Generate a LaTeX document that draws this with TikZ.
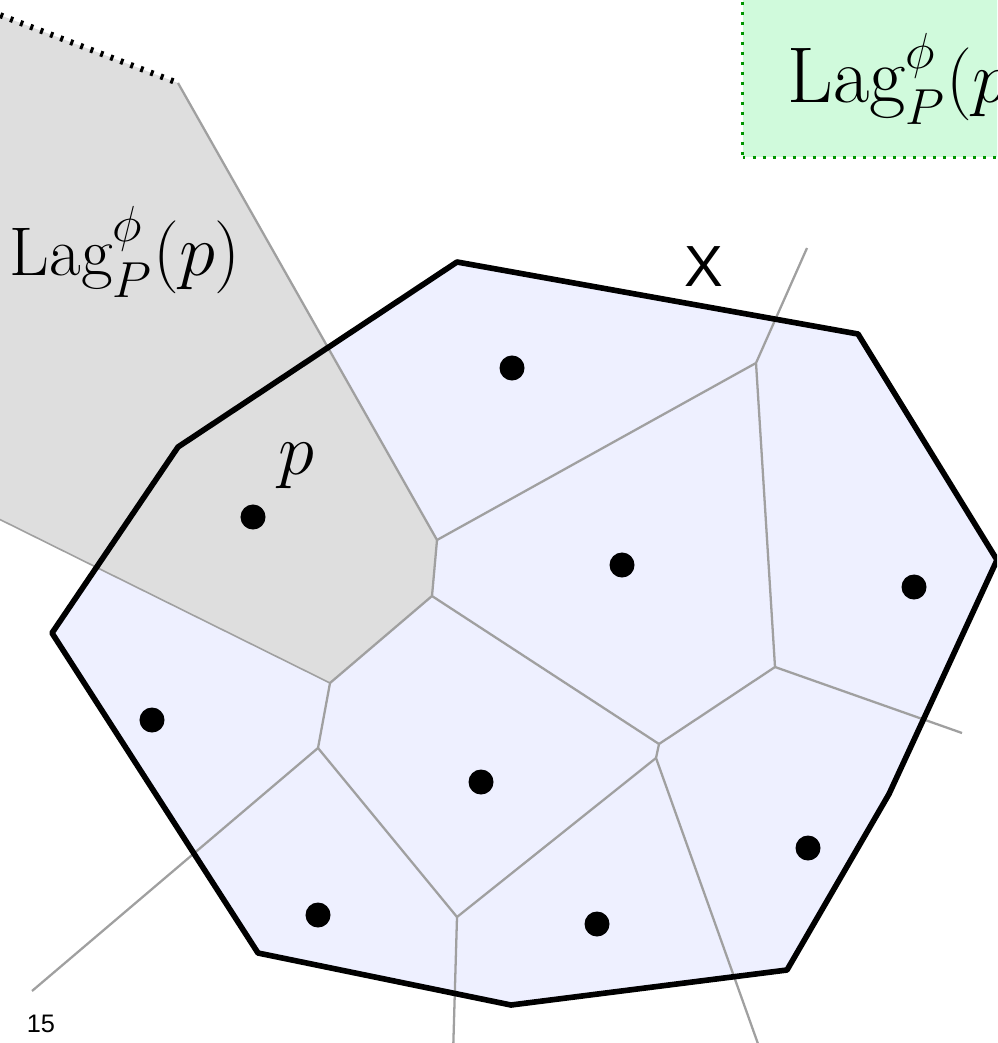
\documentclass[tikz,border=0pt]{standalone}
\usepackage{amsmath}
\usepackage{fontspec}
\newfontfamily\helvfont{Liberation Sans}
\usepackage{tikz}
\usetikzlibrary{calc}
\definecolor{cellblue}{RGB}{238,240,255}
\definecolor{cellgray}{RGB}{222,222,222}
\definecolor{edgegray}{RGB}{160,160,160}
\definecolor{boxgreen}{RGB}{0,150,0}
\definecolor{boxfill}{RGB}{208,250,220}

\begin{document}
\begin{tikzpicture}[x=0.01cm, y=-0.01cm,
    every node/.style={font=\fontsize{19.6}{23}\selectfont},
    xboundary/.style={line width=1.6pt, line join=round},
    celledge/.style={edgegray, line width=0.65pt},
    sitedot/.style={circle, fill=black, inner sep=0pt, minimum size=0.25cm},
    lagbox/.style={draw=boxgreen, fill=boxfill, dotted, line width=0.85pt}]
  \useasboundingbox (0,0) rectangle (997,1043);
  \clip (0,0) rectangle (997,1043);

  % domain X
  \foreach \n/\x/\y in {x1/457/262, x2/858/334, x3/997/560, x4/889/794,
                        x5/787/970, x6/511/1005, x7/258/953, x8/52/633, x9/178/447}
    \coordinate (\n) at (\x,\y);
  \fill[cellblue] (x1) -- (x2) -- (x3) -- (x4) -- (x5) -- (x6) -- (x7) -- (x8) -- (x9) -- cycle;

  % vertices of the Laguerre diagram and far ends of its open edges
  \foreach \n/\x/\y in {v1/437/540, v2/432/596, v3/330/683, v4/318/748, v5/457/917,
                        v6/656/758, v7/659/744, v8/775/667, v9/756/363}
    \coordinate (\n) at (\x,\y);
  \foreach \n/\x/\y in {f0/-100/-23, f1/178/83, f2/807/248, f3/962/733, f4/762/1055,
                        f5/453/1055, f6/32/991, f7/-100/470}
    \coordinate (\n) at (\x,\y);

  \fill[cellgray] (f0) -- (f1) -- (v1) -- (v2) -- (v3) -- (f7) -- cycle;
  \draw[line width=1.7pt, dash pattern=on 0.85pt off 2.2pt] (f0) -- (f1);
  \draw[celledge, line width=0.45pt] (v3) -- (f7);
  \foreach \a/\b in {f1/v1, v1/v9, v9/f2, v9/v8, v8/f3, v8/v7, v7/v2, v2/v1, v2/v3,
                     v3/v4, v4/f6, v4/v5, v5/v6, v6/v7, v6/f4, v5/f5}
    \draw[celledge] (\a) -- (\b);

  \draw[xboundary] (x1) -- (x2) -- (x3) -- (x4) -- (x5) -- (x6) -- (x7) -- (x8) -- (x9) -- cycle;

  \foreach \n/\x/\y in {s1/512/368, s2/253/517, s3/622/565, s4/914/587, s5/152/720,
                        s6/481/782, s7/808/848, s8/318/915, s9/597/924}
    \node[sitedot] (\n) at (\x,\y) {};

  \node (plabel) at (296,466) {$p$};
  \node[inner sep=0pt, anchor=base west] (laglabel) at (9,276) {$\mathrm{Lag}^{\phi}_{P}(p)$};
  \node[font=\helvfont\fontsize{16.5}{18}\selectfont] (xlabel) at (704,267) {X};

  \node[lagbox, anchor=base west, inner xsep=0.45cm, inner ysep=0.33cm, text height=1cm,
        font=\fontsize{22.5}{26}\selectfont] (lagtop) at (741,103) {$\mathrm{Lag}^{\phi}_{P}(p)$};

  \node[font=\helvfont\fontsize{7.2}{9}\selectfont] (pagenum) at (41,1024) {15};
\end{tikzpicture}
\end{document}
